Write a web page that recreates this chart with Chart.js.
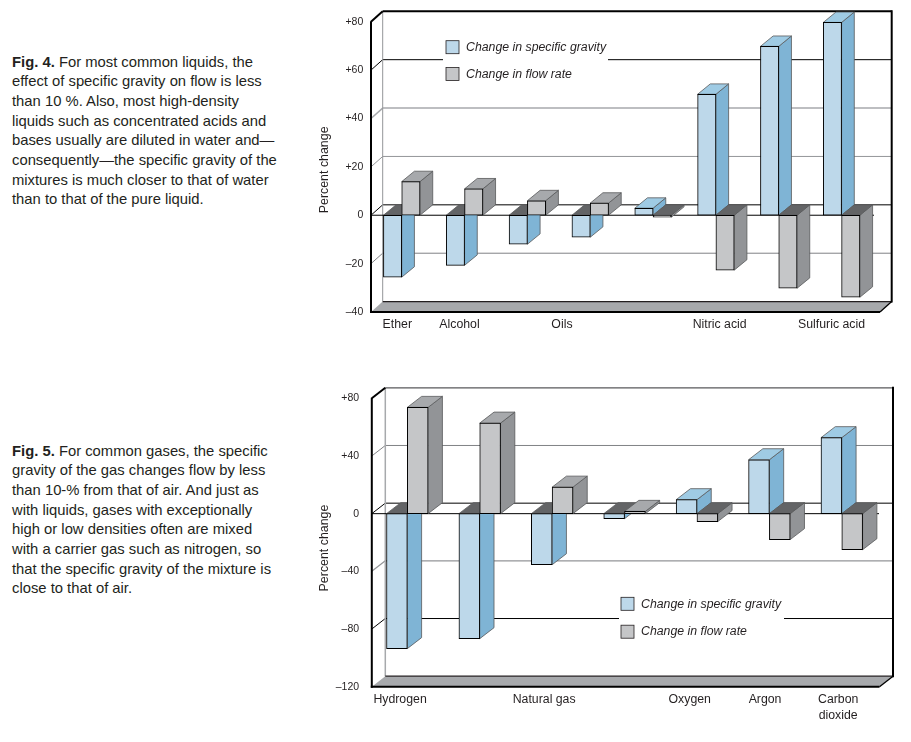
<!DOCTYPE html>
<html>
<head>
<meta charset="utf-8">
<title>Fig. 4 and Fig. 5</title>
<script src="https://cdn.jsdelivr.net/npm/chart.js@4"></script>
<style>
  html, body { margin: 0; padding: 0; background: #fff; }
  body { position: relative; width: 911px; height: 742px; overflow: hidden; }
  canvas { position: absolute; left: 310px; }
  #mychart4 { top: 0; }
  #mychart5 { top: 380px; }
  .cap {
    position: absolute; left: 12px; margin: 0; white-space: nowrap;
    font: 14.8px/19.67px "Liberation Sans", sans-serif; color: #231f20;
  }
</style>
</head>
<body>
<p class="cap" style="top:52.5px"><b>Fig. 4.</b> For most common liquids, the<br>effect of specific gravity on flow is less<br>than 10 %. Also, most high-density<br>liquids such as concentrated acids and<br>bases usually are diluted in water and—<br>consequently—the specific gravity of the<br>mixtures is much closer to that of water<br>than to that of the pure liquid.</p>
<p class="cap" style="top:441.5px"><b>Fig. 5.</b> For common gases, the specific<br>gravity of the gas changes flow by less<br>than 10-% from that of air. And just as<br>with liquids, gases with exceptionally<br>high or low densities often are mixed<br>with a carrier gas such as nitrogen, so<br>that the specific gravity of the mixture is<br>close to that of air.</p>
<canvas id="mychart4" width="600" height="345"></canvas>
<canvas id="mychart5" width="600" height="345"></canvas>
<script>
const liquids = ["Ether", "Alcohol", "Oils", "Oils", "", "Nitric acid", "Nitric acid", "Sulfuric acid"];
const liquidGravity = [-25.6, -20.7, -12, -9.1, 2.9, 50, 69.8, 79.7];
const liquidFlow = [13.9, 10.9, 6, 5, -0.8, -22.7, -30.2, -33.9];
const liquidLabels = ["Ether", "Alcohol", "Oils", "Nitric acid", "Sulfuric acid"];
const liquidLabelAt = [-0.07, 0.92, 2.55, 5.06, 6.84];

const gases = ["Hydrogen", "Natural gas", "Natural gas", "", "Oxygen", "Argon", "Carbon dioxide"];
const gasGravity = [-93.6, -86.7, -35.4, -3.5, 9.7, 37.4, 52.7];
const gasFlow = [73.7, 62.8, 18.4, 1.6, -5.5, -18, -25];
const gasLabels = ["Hydrogen", "Natural gas", "Oxygen", "Argon", ["Carbon", "dioxide"]];
const gasLabelAt = [-0.1, 1.89, 3.9, 4.94, 5.95];

const gravityName = "Change in specific gravity";
const flowName = "Change in flow rate";

const FONT = '"Liberation Sans", sans-serif';
const BLUE = { front: "#bdd8ea", side: "#7fb4d5", top: "#9fcbe4" };
const GRAY = { front: "#c5c6c8", side: "#929497", top: "#a7a9ac" };
const DARK_TOP = "#636466";

function poly(c, pts, fill, stroke, w) {
  c.beginPath();
  pts.forEach((p, i) => (i ? c.lineTo(p[0], p[1]) : c.moveTo(p[0], p[1])));
  c.closePath();
  if (fill) { c.fillStyle = fill; c.fill(); }
  if (stroke) { c.strokeStyle = stroke; c.lineWidth = w || 1; c.stroke(); }
}

function line(c, x1, y1, x2, y2, color, w) {
  c.beginPath();
  c.moveTo(x1, y1);
  c.lineTo(x2, y2);
  c.strokeStyle = color;
  c.lineWidth = w;
  c.stroke();
}

// back wall, floor and the depth faces of the bars; the flat front comes from Chart.js
const box3d = {
  id: "box3d",
  beforeDatasetsDraw(chart, args, o) {
    const c = chart.ctx;
    const a = chart.chartArea;
    const y = chart.scales.y;
    const left = a.left + 0.7;
    const right = a.right + o.extendRight;
    const backL = left + o.wallX;
    const backR = right + o.wallX;
    const bottom = a.bottom;
    const top = a.top;
    c.save();

    poly(c, [[left, bottom], [backL, bottom - o.wallY], [backR, bottom - o.wallY], [right, bottom]], GRAY.top);

    // grid lines sit on the back wall and run down the left wall
    y.ticks.forEach((t) => {
      const st = o.grid[t.value];
      if (!st) return;
      const py = y.getPixelForValue(t.value);
      line(c, left, py, backL, py - o.wallY, st[0], st[1]);
      line(c, backL, py - o.wallY, backR, py - o.wallY, st[0], st[1]);
    });
    c.fillStyle = "#fff";
    c.fillRect(o.legend.gapFrom - 310, y.getPixelForValue(o.legend.gapValue) - o.wallY - 2, o.legend.gapTo - o.legend.gapFrom, 4);

    line(c, backL, top - o.wallY, backL, bottom - o.wallY, o.backLeft[0], o.backLeft[1]);
    line(c, backL, bottom - o.wallY, backR, bottom - o.wallY, "#231f20", 1.3);
    line(c, backL, top - o.wallY, backR, top - o.wallY, o.topLine[0], o.topLine[1]);
    line(c, backR, top - o.wallY - 1, backR, bottom - o.wallY + 1, "#000", 2);
    line(c, backR, bottom - o.wallY, right, bottom, "#000", 1.3);

    const zero = y.getPixelForValue(0);
    line(c, left, zero, a.right + o.zeroEnd, zero, "#000", 1);
    line(c, left, top, backL, top - o.wallY, "#000", 2);

    // depth faces, left to right, blue before gray
    chart.data.labels.forEach((lab, i) => {
      chart.data.datasets.forEach((ds, d) => {
        const bar = chart.getDatasetMeta(d).data[i];
        const col = d === 0 ? BLUE : GRAY;
        const x0 = bar.x - bar.width / 2;
        const x1 = bar.x + bar.width / 2;
        const up = Math.min(bar.y, bar.base);
        const down = Math.max(bar.y, bar.base);
        const dx = o.barX;
        const dy = o.barY;
        const edge = "#58595b";
        poly(c, [[x1, up], [x1 + dx, up - dy], [x1 + dx, down - dy], [x1, down]], col.side, edge, 0.8);
        const isUp = ds.data[i] > 0;
        poly(c, [[x0, up], [x0 + dx, up - dy], [x1 + dx, up - dy], [x1, up]], isUp ? col.top : DARK_TOP, edge, 0.8);
      });
    });
    c.restore();
  },
  afterDatasetsDraw(chart, args, o) {
    const c = chart.ctx;
    const a = chart.chartArea;
    c.save();
    // front axis lines stay on top of everything
    line(c, a.left + 0.7, a.top - 0.5, a.left + 0.7, a.bottom + 1, "#000", 2);
    line(c, a.left - 0.3, a.bottom, a.right + o.extendRight, a.bottom, "#000", 2);

    // legend
    chart.data.datasets.forEach((ds, d) => {
      const sx = o.legend.x - 310;
      const sy = o.legend.y[d] - chart.canvas.offsetTop;
      c.fillStyle = d === 0 ? BLUE.front : GRAY.front;
      c.fillRect(sx, sy, 13, 13);
      c.strokeStyle = "#231f20";
      c.lineWidth = 0.8;
      c.strokeRect(sx, sy, 13, 13);
      c.fillStyle = "#231f20";
      c.font = "italic 12.3px " + FONT;
      c.textAlign = "left";
      c.textBaseline = "middle";
      c.fillText(ds.label, sx + 20, sy + 6.8);
    });
    c.restore();
  },
};

function makeChart(el, groups, gravity, flow, labels, labelAt, s) {
  return new Chart(el, {
    type: "bar",
    plugins: [box3d],
    data: {
      labels: groups,
      datasets: [
        { label: gravityName, data: gravity, backgroundColor: BLUE.front },
        { label: flowName, data: flow, backgroundColor: GRAY.front },
      ],
    },
    options: {
      responsive: false,
      animation: false,
      layout: { padding: { top: s.top, right: s.right, left: 0, bottom: 0 } },
      datasets: {
        bar: { barThickness: s.bar, borderColor: "#000", borderWidth: 1, borderSkipped: false },
      },
      plugins: { legend: { display: false }, tooltip: { enabled: false }, box3d: s.box },
      scales: {
        x: { display: false, grid: { display: false } },
        names: {
          type: "linear",
          position: "bottom",
          offset: false,
          min: -0.5,
          max: groups.length - 0.5,
          afterBuildTicks: (sc) => { sc.ticks = labelAt.map((v) => ({ value: v })); },
          afterFit: (sc) => { sc.height = 345 - s.top - s.plotH; },
          grid: { display: false, drawTicks: false, offset: false },
          border: { display: false },
          ticks: {
            autoSkip: false,
            maxRotation: 0,
            minRotation: 0,
            padding: s.namePad,
            color: "#231f20",
            font: { family: FONT, size: 12.3, lineHeight: 1.3 },
            callback: (v, i) => labels[i],
          },
        },
        y: {
          min: s.min,
          max: s.max,
          afterFit: (sc) => { sc.width = s.yWidth; },
          afterUpdate: (sc) => {
            // the title sits a little below the middle of the axis in the original
            const drawTitle = sc.constructor.prototype.drawTitle;
            sc.drawTitle = function () {
              this.ctx.save();
              this.ctx.translate(0, s.titleShift);
              drawTitle.call(this);
              this.ctx.restore();
            };
          },
          grid: { display: false, drawTicks: false },
          border: { display: false },
          title: {
            display: true,
            text: "Percent change",
            color: "#231f20",
            font: { family: FONT, size: 12.4 },
            padding: { top: 7, bottom: 0 },
          },
          ticks: {
            stepSize: s.step,
            padding: s.tickPad,
            color: "#231f20",
            font: { family: FONT, size: 10.5 },
            callback: (v) => (v > 0 ? "+" + v : v < 0 ? "–" + Math.abs(v) : "0"),
          },
        },
      },
    },
  });
}

const ctx4 = document.querySelector("#mychart4");
const ctx5 = document.querySelector("#mychart5");

makeChart(ctx4, liquids, liquidGravity, liquidFlow, liquidLabels, liquidLabelAt, {
  min: -40, max: 80, step: 20, titleShift: 3,
  top: 21.7, plotH: 290.3, right: 37, yWidth: 60.3, bar: 18.3, tickPad: 7, namePad: 5,
  box: {
    wallX: 11.7, wallY: 10.4, barX: 12.7, barY: 10.4, extendRight: 7, zeroEnd: 1,
    grid: {
      60: ["#000", 1], 40: ["#a7a9ac", 1.5], 20: ["#939598", 1], 0: ["#000", 1], "-20": ["#808285", 1],
    },
    backLeft: ["#939598", 1], topLine: ["#000", 2],
    legend: { x: 446, y: [40.7, 67.5], gapFrom: 443, gapTo: 608, gapValue: 60 },
  },
});

makeChart(ctx5, gases, gasGravity, gasFlow, gasLabels, gasLabelAt, {
  min: -120, max: 80, step: 40, titleShift: 5.5,
  top: 18.3, plotH: 288.4, right: 32, yWidth: 61.1, bar: 20.8, tickPad: 12, namePad: 5,
  box: {
    wallX: 13.5, wallY: 10.5, barX: 14.3, barY: 11, extendRight: 1.5, zeroEnd: 1,
    grid: {
      40: ["#808285", 1], 0: ["#000", 1], "-40": ["#939598", 1.2], "-80": ["#000", 1],
    },
    backLeft: ["#a7a9ac", 1.5], topLine: ["#58595b", 1.3],
    legend: { x: 621, y: [597.3, 625.2], gapFrom: 619, gapTo: 784, gapValue: -80 },
  },
});
</script>
</body>
</html>
